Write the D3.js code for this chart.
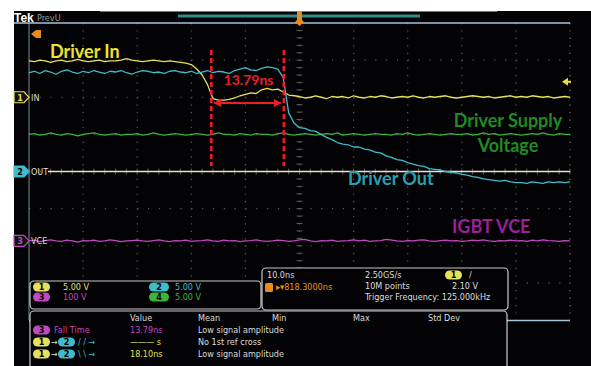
<!DOCTYPE html>
<html>
<head>
<meta charset="utf-8">
<script src="https://cdn.jsdelivr.net/npm/d3@7"></script>
<style>
  body { margin: 0; background: #fff; }
  svg { display: block; }
  .small { font-family: 'Liberation Sans Narrow', 'DejaVu Sans Condensed', 'Roboto', sans-serif; font-size: 9px; }
  .big { font-family: Lato, 'Open Sans', sans-serif; font-weight: bold; }
</style>
</head>
<body>
<div id="chart"></div>
<script>
// 1 ns samples across the 10 divisions (10 ns/div), trigger at 0
const times = d3.range(-50, 51);

// channel 1 (yellow, Driver In), volts
const ch1 = [4.9,4.8,5.0,4.9,4.7,4.9,5.0,4.8,4.9,5.1, 4.9,4.8,4.9,5.0,4.8,4.9,4.9,5.0,5.2,5.0,
  4.9,4.8,4.9,5.0,4.9,4.8,4.9,4.8,4.7,4.6,
  4.4,3.8,3.0,1.7,-0.2,-0.4,-0.4,-0.3,-0.1,0.2, 0.4,0.6,0.5,1.0,1.2,1.0,1.1,0.7,0.3,0.2,
  0.1,-0.1,0.0,0.2,0.0,-0.2,0.1,0.0,0.1,-0.1, 0.2,0.0,-0.1,0.1,0.0,0.2,0.1,-0.1,0.0,0.1,
  0.0,0.2,0.0,-0.1,0.1,0.0,0.1,0.2,0.0,-0.1, 0.0,0.1,0.2,0.1,0.0,0.1,-0.1,0.0,0.1,0.2,
  0.0,0.1,0.0,0.2,0.1,0.0,0.1,-0.1,0.0,0.1, 0.0];

// channel 2 (cyan, Driver Out)
const ch2 = [13.3,13.5,13.2,13.6,13.4,13.1,13.5,13.7,13.4,13.2, 13.5,13.3,13.6,13.4,13.2,13.5,13.4,13.6,13.3,13.1,
  13.4,13.6,13.5,13.3,13.4,13.2,13.5,13.6,13.4,13.3, 13.5,13.2,
  13.4,13.6,13.3,13.5,13.4,13.2,13.6,13.8,14.0,13.7, 13.6,13.9,14.1,14.0,13.8,
  12.6,7.9,6.5,
  5.9,5.8,5.5,5.4,5.0,4.6,4.3,3.9,3.7,3.6, 3.3,3.3,3.0,2.9,2.6,2.5,2.1,1.9,1.6,1.5,
  1.2,1.0,0.8,0.7,0.4,0.3,0.2,0.0,-0.1,-0.2, -0.4,-0.5,-0.7,-0.8,-1.0,-1.1,-1.2,-1.3,-1.2,-1.4,
  -1.5,-1.5,-1.6,-1.4,-1.5,-1.6,-1.4,-1.5,-1.4,-1.5, -1.4];

// channel 3 (magenta, IGBT VCE)
const ch3 = [0,2,-2,1,3,0,-1,2,0,-3, 1,0,2,-1,0,3,1,-2,0,1, 2,0,-1,1,3,0,-2,1,0,2,
  -1,0,1,3,0,-1,2,0,1,-2, 0,1,3,0,-1,0,2,1,-1,0, 3,4,0,-2,1,0,2,-1,0,1,
  3,0,2,-1,0,1,4,2,0,-1, 1,0,2,3,0,-1,1,2,0,1, -1,0,2,1,3,0,-1,1,0,2,
  0,1,-1,2,0,3,1,0,-1,1, 0];

// channel 4 (green, Driver Supply Voltage)
const ch4 = [5.0,5.1,4.9,5.0,5.2,5.0,4.9,5.1,5.0,4.8, 5.0,5.1,5.2,5.0,4.9,5.0,5.1,4.9,5.0,5.0,
  5.1,4.9,5.0,5.2,5.0,4.9,5.0,5.1,5.0,4.9, 5.0,5.1,5.0,4.9,5.0,5.2,5.0,5.0,4.9,5.1,
  5.0,4.9,5.1,5.0,5.0,4.9,5.1,5.2,5.0,4.9, 5.0,5.1,5.0,4.9,5.0,5.1,5.0,5.2,4.9,5.0,
  5.1,5.0,4.9,5.0,5.1,5.0,5.0,4.9,5.1,5.0, 5.2,5.0,4.9,5.0,5.1,5.0,4.9,5.0,5.1,5.0,
  5.0,5.1,4.9,5.0,5.2,5.0,5.1,4.9,5.0,5.1, 5.0,4.9,5.0,5.1,5.0,5.2,5.0,4.9,5.1,5.0, 5.0];

// volts/div and offset (div) per channel
const channels = [
  { id: 1, data: ch1, scale: 5, offset: 2.0, color: "#e6e05a", label: "IN" },
  { id: 2, data: ch2, scale: 5, offset: 0, color: "#40bccb", label: "OUT" },
  { id: 3, data: ch3, scale: 100, offset: -1.87, color: "#c248c2", label: "VCE" },
  { id: 4, data: ch4, scale: 5, offset: 0, color: "#3cb43c", label: "" }
];

const cursorTimes = [-16.3, -2.9];
const refStart = -46.5;

const width = 591,
    height = 366;

const svg = d3.select("#chart").append("svg")
    .attr("width", width)
    .attr("height", height);

const x = d3.scaleLinear().domain([-50, 50]).range([29, 570]);
const y = d3.scaleLinear().domain([-4, 4]).range([320, 23]);
const yv = (ch, v) => y(v / ch.scale + ch.offset);

// screen
svg.append("rect").attr("x", 14).attr("y", 11).attr("width", width - 14).attr("height", height - 11).attr("fill", "#030305");

// header
svg.append("line").attr("x1", 100).attr("x2", 497).attr("y1", 11.5).attr("y2", 11.5).attr("stroke", "#6a7a86").attr("stroke-width", 1);
svg.append("rect").attr("x", 178).attr("y", 14.5).attr("width", 242).attr("height", 3).attr("fill", "#2f8c8e");
svg.append("text").attr("x", 14).attr("y", 21.5).attr("fill", "#fff")
    .style("font", "bold 12px 'Liberation Sans', sans-serif").text("Tek");
svg.append("text").attr("class", "small").attr("x", 37).attr("y", 21).attr("fill", "#9a9a9a").text("PrevU");

// grid
const grid = svg.append("g");
d3.range(-40, 50, 10).forEach(t => {
  grid.append("line").attr("x1", x(t)).attr("x2", x(t)).attr("y1", 23).attr("y2", 320)
      .attr("stroke", "#5c5c5c").attr("stroke-width", 1.2).attr("stroke-dasharray", "1.2 6.22");
});
d3.range(-3, 4).forEach(d => {
  grid.append("line").attr("x1", 29).attr("x2", 570).attr("y1", y(d)).attr("y2", y(d))
      .attr("stroke", "#5c5c5c").attr("stroke-width", 1.2).attr("stroke-dasharray", "1.2 9.62");
});
// centre minor ticks
d3.range(-4, 4.01, 0.2).forEach(d => {
  grid.append("line").attr("x1", x(0) - 3).attr("x2", x(0) + 3).attr("y1", y(d)).attr("y2", y(d))
      .attr("stroke", "#5c5c5c").attr("stroke-width", 1);
});
d3.range(-50, 50.01, 2).forEach(t => {
  grid.append("line").attr("x1", x(t)).attr("x2", x(t)).attr("y1", y(0) - 3).attr("y2", y(0) + 3)
      .attr("stroke", "#5c5c5c").attr("stroke-width", 1);
});
grid.append("line").attr("x1", 570).attr("x2", 570).attr("y1", 23).attr("y2", 320)
    .attr("stroke", "#777").attr("stroke-width", 1.2).attr("stroke-dasharray", "1.2 6.22");
grid.append("line").attr("x1", 29).attr("x2", 29).attr("y1", 23).attr("y2", 320).attr("stroke", "#7d8c99").attr("stroke-width", 1);
grid.append("line").attr("x1", 14).attr("x2", 570).attr("y1", 23).attr("y2", 23).attr("stroke", "#a9c3d8").attr("stroke-width", 1.3);
grid.append("line").attr("x1", 29).attr("x2", 570).attr("y1", 320.5).attr("y2", 320.5).attr("stroke", "#a9c3d8").attr("stroke-width", 1.3);

// reference line on channel 2 ground
svg.append("line").attr("x1", x(refStart)).attr("x2", x(50)).attr("y1", yv(channels[1], 0)).attr("y2", yv(channels[1], 0))
    .attr("stroke", "#e6e2cf").attr("stroke-width", 1.5);

// waveforms
const order = [3, 2, 0, 1];
order.forEach(i => {
  const ch = channels[i];
  const line = d3.line().x((d, j) => x(times[j])).y(d => yv(ch, d));
  svg.append("path").datum(ch.data).attr("d", line)
      .attr("fill", "none").attr("stroke", ch.color).attr("stroke-width", 1.3).attr("stroke-linejoin", "round");
});

// cursors
const red = "#e8202a";
cursorTimes.forEach(t => {
  svg.append("line").attr("x1", x(t)).attr("x2", x(t)).attr("y1", 50).attr("y2", 166)
      .attr("stroke", red).attr("stroke-width", 2.6).attr("stroke-dasharray", "5 3");
});
const ay = 103;
svg.append("line").attr("x1", x(cursorTimes[0]) + 3).attr("x2", x(cursorTimes[1]) - 3).attr("y1", ay).attr("y2", ay)
    .attr("stroke", red).attr("stroke-width", 2);
svg.append("path").attr("fill", red)
    .attr("d", `M${x(cursorTimes[0]) + 2},${ay} l8,-4 v8 z M${x(cursorTimes[1]) - 2},${ay} l-8,-4 v8 z`);
svg.append("text").attr("class", "big").attr("x", (x(cursorTimes[0]) + x(cursorTimes[1])) / 2 + 1).attr("y", 85)
    .attr("text-anchor", "middle").attr("fill", red).style("font-size", "14px").text("13.79ns");

// annotations
svg.append("text").attr("class", "big").attr("x", 50).attr("y", 58).attr("fill", "#ece52c").style("font-size", "18px").text("Driver In");
svg.append("text").attr("class", "big").attr("x", 508).attr("y", 127).attr("text-anchor", "middle").attr("fill", "#1f8c22").style("font-size", "18px").text("Driver Supply");
svg.append("text").attr("class", "big").attr("x", 508).attr("y", 152).attr("text-anchor", "middle").attr("fill", "#1f8c22").style("font-size", "18px").text("Voltage");
svg.append("text").attr("class", "big").attr("x", 348).attr("y", 185).attr("fill", "#2aa0ae").style("font-size", "18px").text("Driver Out");
svg.append("text").attr("class", "big").attr("x", 452).attr("y", 233).attr("fill", "#9c1f9c").style("font-size", "18px").text("IGBT VCE");

// markers: trigger position, trigger level, expansion
svg.append("path").attr("fill", "#e88a1e").attr("d", `M${x(0) - 2.5},11 h5 v9 l2,2 -4.5,4 -4.5,-4 2,-2 z`);
svg.append("path").attr("fill", "#e88a1e").attr("d", "M31,34 l5,-4 v8 z M36,30 h5 v8 h-5 z");
const tl = yv(channels[0], 2.1);
svg.append("path").attr("fill", "#f0e030").attr("d", `M562,${tl} l6,-4 v3 h3 v2 h-3 v3 z`);

// channel ground markers
channels.slice(0, 3).forEach(ch => {
  const gy = yv(ch, 0);
  const filled = ch.id === 2;
  svg.append("path").attr("d", `M14,${gy - 5.5} h10 l5,5.5 l-5,5.5 h-10 z`)
      .attr("fill", filled ? ch.color : "#111").attr("stroke", ch.color).attr("stroke-width", 1.2);
  svg.append("text").attr("class", "small").attr("x", 20).attr("y", gy + 3.5).attr("text-anchor", "middle")
      .attr("fill", filled ? "#000" : ch.color).style("font-weight", "bold").text(ch.id);
  svg.append("text").attr("class", "small").attr("x", 31).attr("y", gy + 3.5).attr("fill", "#ddd").text(ch.label);
});

// panels
const panel = (px, py, pw, ph) => svg.append("rect").attr("x", px).attr("y", py).attr("width", pw).attr("height", ph)
    .attr("rx", 4).attr("fill", "#030305").attr("stroke", "#c8c8c8").attr("stroke-width", 1.2);
const pill = (px, py, ch, w) => {
  svg.append("rect").attr("x", px).attr("y", py - 4.5).attr("width", w || 17).attr("height", 9).attr("rx", 4.5).attr("fill", ch.color);
  svg.append("text").attr("class", "small").attr("x", px + (w || 17) / 2).attr("y", py + 3).attr("text-anchor", "middle")
      .attr("fill", "#000").style("font-weight", "bold").text(ch.id);
};
const txt = (tx, ty, s, c) => svg.append("text").attr("class", "small").attr("x", tx).attr("y", ty).attr("fill", c || "#ddd").text(s);

panel(262, 268, 246, 42);
panel(30, 281, 231, 28);
panel(30, 311, 477, 60);

pill(33, 287, channels[0]); txt(63, 290, "5.00 V", channels[0].color);
pill(33, 297, channels[2]); txt(63, 300, "100 V", channels[2].color);
pill(149, 287, channels[1], 20); txt(175, 290, "5.00 V", channels[1].color);
pill(149, 297, channels[3], 20); txt(175, 300, "5.00 V", channels[3].color);

txt(267, 278, "10.0ns");
svg.append("rect").attr("x", 265).attr("y", 283).attr("width", 8).attr("height", 9).attr("rx", 1.5).attr("fill", "#e88a1e");
txt(276, 290, "\u25B8\u25BE818.3000ns", "#e8951e");
txt(365, 278, "2.50GS/s");
txt(365, 289, "10M points");
txt(365, 300, "Trigger Frequency: 125.000kHz");
pill(445, 275, channels[0]); txt(469, 278, "/");
txt(452, 289, "2.10 V");

const cols = [["Value", 130], ["Mean", 198], ["Min", 272], ["Max", 353], ["Std Dev", 428]];
cols.forEach(c => txt(c[1], 321, c[0]));
pill(33, 330, channels[2]); txt(54, 333, "Fall Time", channels[2].color);
txt(130, 333, "13.79ns", channels[2].color); txt(198, 333, "Low signal amplitude");
pill(33, 342, channels[0]); txt(51, 345, "\u2192"); pill(58, 342, channels[1]); txt(78, 345, "/ / \u2192", channels[1].color);
txt(130, 345, "\u2014\u2014\u2014 s", channels[0].color); txt(198, 345, "No 1st ref cross");
pill(33, 354, channels[0]); txt(51, 357, "\u2192"); pill(58, 354, channels[1]); txt(78, 357, "\\ \\ \u2192", channels[1].color);
txt(130, 357, "18.10ns", channels[0].color); txt(198, 357, "Low signal amplitude");
</script>
</body>
</html>
